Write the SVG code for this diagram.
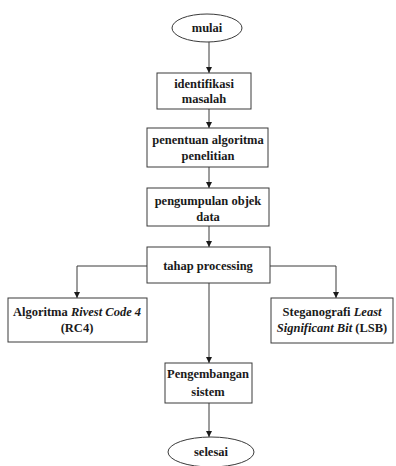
<svg xmlns="http://www.w3.org/2000/svg" width="396" height="466" viewBox="0 0 396 466">
  <style>
    .box { fill: #ffffff; stroke: #3a3a3a; stroke-width: 1; }
    .line { fill: none; stroke: #3a3a3a; stroke-width: 1; }
    .t { font-family: "Liberation Serif", "Times New Roman", serif; font-size: 12.5px; font-weight: bold; fill: #1a1a1a; text-anchor: middle; }
    .i { font-style: italic; }
  </style>
  <defs>
    <marker id="arrow" viewBox="0 0 6 6" refX="6" refY="3" markerWidth="6" markerHeight="6" markerUnits="userSpaceOnUse" orient="auto">
      <path d="M0,0 L6,3 L0,6 Z" fill="#1a1a1a"/>
    </marker>
  </defs>
  <rect width="396" height="466" fill="#ffffff"/>

  <g id="connectors">
    <line class="line" x1="209" y1="42" x2="209" y2="73" marker-end="url(#arrow)"/>
    <line class="line" x1="209" y1="109" x2="209" y2="128" marker-end="url(#arrow)"/>
    <line class="line" x1="209" y1="167" x2="209" y2="188" marker-end="url(#arrow)"/>
    <line class="line" x1="209" y1="226" x2="209" y2="247" marker-end="url(#arrow)"/>
    <polyline class="line" points="147,266 77,266 77,298" marker-end="url(#arrow)"/>
    <polyline class="line" points="270,266 336,266 336,298" marker-end="url(#arrow)"/>
    <line class="line" x1="209" y1="283" x2="209" y2="363" marker-end="url(#arrow)"/>
    <line class="line" x1="209" y1="403" x2="209" y2="437" marker-end="url(#arrow)"/>
  </g>

  <g id="mulai">
    <ellipse class="box" cx="207" cy="28" rx="35" ry="14"/>
    <text class="t" x="207" y="32">mulai</text>
  </g>

  <g id="identifikasi">
    <rect class="box" x="157" y="73" width="94" height="36"/>
    <text class="t" x="204" y="88">identifikasi</text>
    <text class="t" x="204" y="103">masalah</text>
  </g>

  <g id="penentuan">
    <rect class="box" x="147" y="128" width="121" height="39"/>
    <text class="t" x="208" y="144">penentuan algoritma</text>
    <text class="t" x="208" y="160">penelitian</text>
  </g>

  <g id="pengumpulan">
    <rect class="box" x="147" y="188" width="122" height="38"/>
    <text class="t" x="208" y="205">pengumpulan objek</text>
    <text class="t" x="208" y="221">data</text>
  </g>

  <g id="processing">
    <rect class="box" x="147" y="247" width="123" height="36"/>
    <text class="t" x="208" y="270">tahap processing</text>
  </g>

  <g id="rc4">
    <rect class="box" x="8" y="298" width="139" height="44"/>
    <text class="t" x="77" y="316">Algoritma <tspan class="i">Rivest Code 4</tspan></text>
    <text class="t" x="77" y="332">(RC4)</text>
  </g>

  <g id="lsb">
    <rect class="box" x="271" y="298" width="122" height="45"/>
    <text class="t" x="332" y="316">Steganografi <tspan class="i">Least</tspan></text>
    <text class="t" x="332" y="332"><tspan class="i">Significant Bit</tspan> (LSB)</text>
  </g>

  <g id="pengembangan">
    <rect class="box" x="165" y="363" width="87" height="40"/>
    <text class="t" x="208" y="378">Pengembangan</text>
    <text class="t" x="208" y="396">sistem</text>
  </g>

  <g id="selesai">
    <ellipse class="box" cx="211" cy="452" rx="43" ry="15"/>
    <text class="t" x="211" y="456">selesai</text>
  </g>
</svg>
